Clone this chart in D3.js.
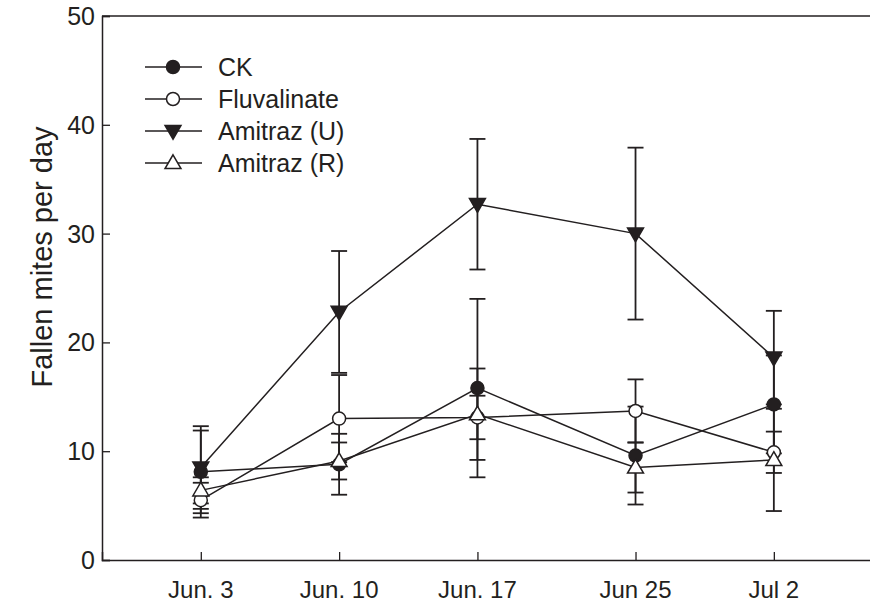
<!DOCTYPE html>
<html>
<head>
<meta charset="utf-8">
<script src="https://d3js.org/d3.v7.min.js"></script>
<style>
  body { margin: 0; background: #fff; }
  svg { display: block; font-family: Arial, "Liberation Sans", sans-serif; }
</style>
</head>
<body>
<div id="chart"></div>
<script>
// days counted from Jun. 3
const dates = [0, 7, 14, 22, 29];
const dateLabels = ["Jun. 3", "Jun. 10", "Jun. 17", "Jun 25", "Jul 2"];
const yTicks = [0, 10, 20, 30, 40, 50];

const seriesNames = ["CK", "Fluvalinate", "Amitraz (U)", "Amitraz (R)"];
const ckMean = [8.1, 8.8, 15.8, 9.6, 14.3];
const ckErr = [3.8, 2.8, 8.2, 4.5, 4.5];
const fluMean = [5.5, 13.0, 13.1, 13.7, 9.9];
const fluErr = [1.6, 4.0, 2.0, 2.9, 1.9];
const amuMean = [8.5, 22.8, 32.7, 30.0, 18.6];
const amuErr = [3.8, 5.6, 6.0, 7.9, 4.3];
const amrMean = [6.4, 9.1, 13.4, 8.5, 9.2];
const amrErr = [1.2, 1.7, 4.2, 2.3, 4.7];

const W = 870, H = 605;
const margin = {left: 102, top: 16, bottom: 45};
const dayWidth = 19.76;

const svg = d3.select("#chart").append("svg")
    .attr("width", W)
    .attr("height", H);

const x = d3.scaleLinear()
    .domain([-5, 35])
    .range([margin.left, margin.left + 40 * dayWidth]);

const y = d3.scaleLinear()
    .domain([0, 50])
    .range([H - margin.bottom, margin.top]);

const series = [
  {name: seriesNames[0], mean: ckMean, err: ckErr, shape: "circle", fill: "#231f20"},
  {name: seriesNames[1], mean: fluMean, err: fluErr, shape: "circle", fill: "#fff"},
  {name: seriesNames[2], mean: amuMean, err: amuErr, shape: "down", fill: "#231f20"},
  {name: seriesNames[3], mean: amrMean, err: amrErr, shape: "up", fill: "#fff"}
];

const ink = "#231f20";

// frame: top line and axes
svg.append("line")
    .attr("x1", x(-5)).attr("x2", W)
    .attr("y1", y(50)).attr("y2", y(50))
    .attr("stroke", ink).attr("stroke-width", 1.5);

const yAxis = svg.append("g")
    .attr("transform", `translate(${x(-5)},0)`)
    .call(d3.axisRight(y).tickValues(yTicks).tickSize(8).tickFormat(""));
yAxis.select(".domain").attr("stroke", ink).attr("stroke-width", 1.5);
yAxis.selectAll(".tick line").attr("stroke", ink).attr("stroke-width", 1.3);

yTicks.forEach(t => {
  svg.append("text")
      .attr("x", 95).attr("y", y(t) + 9)
      .attr("text-anchor", "end")
      .attr("font-size", 25)
      .attr("fill", ink)
      .text(t);
});

const xAxis = svg.append("g")
    .attr("transform", `translate(0,${y(0)})`)
    .call(d3.axisTop(x).tickValues(dates).tickSize(8).tickFormat(""));
xAxis.select(".domain").attr("stroke", ink).attr("stroke-width", 1.5);
xAxis.selectAll(".tick line").attr("stroke", ink).attr("stroke-width", 1.3);

dates.forEach((d, i) => {
  svg.append("text")
      .attr("x", x(d)).attr("y", 598)
      .attr("text-anchor", "middle")
      .attr("font-size", 24)
      .attr("fill", ink)
      .text(dateLabels[i]);
});

svg.append("text")
    .attr("transform", "translate(42,257) rotate(-90)")
    .attr("text-anchor", "middle")
    .attr("dominant-baseline", "central")
    .attr("font-size", 29)
    .attr("fill", ink)
    .text("Fallen mites per day");

const line = d3.line().x((d, i) => x(dates[i])).y(d => y(d));

// lines first
series.forEach(s => {
  svg.append("path")
      .attr("d", line(s.mean))
      .attr("fill", "none")
      .attr("stroke", ink)
      .attr("stroke-width", 1.5);
});

// error bars
const cap = 8;
series.forEach(s => {
  s.mean.forEach((m, i) => {
    const cx = x(dates[i]);
    const g = svg.append("g").attr("stroke", ink).attr("stroke-width", 1.8);
    g.append("line").attr("x1", cx).attr("x2", cx)
        .attr("y1", y(m - s.err[i])).attr("y2", y(m + s.err[i]));
    [m - s.err[i], m + s.err[i]].forEach(v => {
      g.append("line").attr("x1", cx - cap).attr("x2", cx + cap)
          .attr("y1", y(v)).attr("y2", y(v));
    });
  });
});

function drawMarker(g, shape, cx, cy, fill) {
  if (shape === "circle") {
    g.append("circle").attr("cx", cx).attr("cy", cy).attr("r", 6.5)
        .attr("fill", fill).attr("stroke", ink).attr("stroke-width", 1.5);
  } else {
    const sym = d3.symbol().type(d3.symbolTriangle).size(110);
    g.append("path").attr("d", sym())
        .attr("transform", `translate(${cx},${cy + (shape === "down" ? -1 : 1)}) rotate(${shape === "down" ? 180 : 0})`)
        .attr("fill", fill).attr("stroke", ink).attr("stroke-width", 1.5);
  }
}

// markers on top
series.forEach(s => {
  const g = svg.append("g");
  s.mean.forEach((m, i) => drawMarker(g, s.shape, x(dates[i]), y(m), s.fill));
});

// legend
const legend = svg.append("g");
series.forEach((s, i) => {
  const ly = 67 + i * 32;
  legend.append("line")
      .attr("x1", 145).attr("x2", 202)
      .attr("y1", ly).attr("y2", ly)
      .attr("stroke", ink).attr("stroke-width", 1.5);
  drawMarker(legend, s.shape, 173, ly, s.fill);
  legend.append("text")
      .attr("x", 218).attr("y", ly + 9)
      .attr("font-size", 25)
      .attr("fill", ink)
      .text(s.name);
});
</script>
</body>
</html>
